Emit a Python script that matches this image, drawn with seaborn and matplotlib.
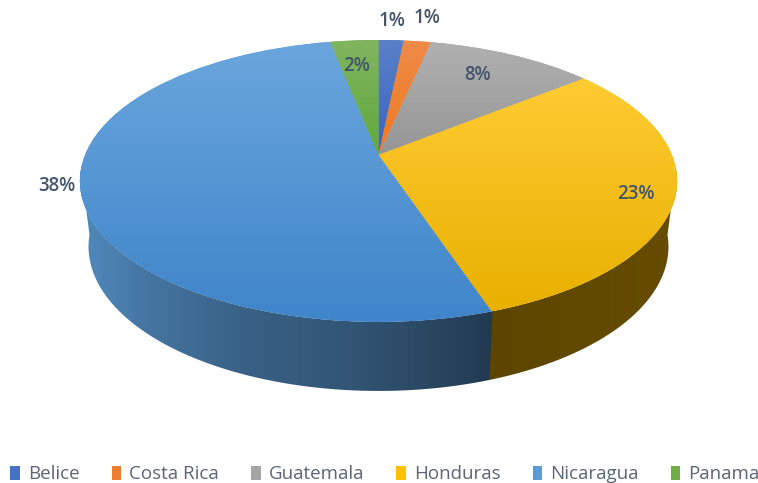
import numpy as np
import seaborn as sns
import matplotlib
matplotlib.use('Agg')
import matplotlib.pyplot as plt
from matplotlib.patches import Polygon
from matplotlib.transforms import Transform

paises = ['Belice', 'Costa Rica', 'Guatemala', 'Honduras', 'Nicaragua', 'Panama']
valores = [1.2, 1.3, 8.0, 22.6, 38.4, 2.3]
cores = ['#4472c4', '#ed7d31', '#a5a5a5', '#ffc000', '#5b9bd5', '#70ad47']
cores_claras = ['#5a80c8', '#ee8a48', '#b0b0b0', '#ffcb33', '#6aa6dd', '#80b560']
cores_escuras = ['#3a64c0', '#f07a20', '#969696', '#e8b000', '#3f85c9', '#62a83c']

# posicao dos rotulos em pixels
rotulos_x = [392, 427, 478, 636, 57, 357]
rotulos_y = [21, 18, 75, 194, 186, 66]

sns.set_theme(style='white')
plt.rcParams['font.family'] = ['Open Sans', 'DejaVu Sans']
paleta = sns.color_palette(cores)
claras = sns.color_palette(cores_claras)
escuras = sns.color_palette(cores_escuras)


class Perspectiva(Transform):
    """Leva o disco unitario para a elipse em perspectiva, em pixels."""
    input_dims = 2
    output_dims = 2
    is_separable = False
    has_inverse = False

    def __init__(self, k, y0, a, c=0.184):
        super().__init__()
        self.k, self.y0, self.a, self.c = k, y0, a, c

    def transform_non_affine(self, values):
        values = np.asarray(values, dtype=float)
        w = 1 + self.c * values[:, 1]
        return np.column_stack([378.5 + self.k * values[:, 0] / w,
                                (self.y0 + self.a * values[:, 1]) / w])


topo = Perspectiva(293.5, 155, -107.6)
base = Perspectiva(285, 220, -99)

fig = plt.figure(figsize=(7.58, 4.83), dpi=100)
ax = fig.add_axes([0, 0, 1, 1])

wedges, _ = ax.pie(valores, colors=paleta, startangle=90, counterclock=False,
                   wedgeprops={'linewidth': 0})
ax.set_aspect('auto')

# lateral do disco: um poligono por fatia, com degrade horizontal recortado
colunas = np.arange(0, 758)
for wedge, cor in zip(wedges, paleta):
    ang = np.radians(np.arange(wedge.theta1, wedge.theta2 + 0.25, 0.25))
    pts = np.column_stack([np.cos(ang), np.sin(ang)])
    pts = pts[pts[:, 1] < -0.1]
    if len(pts) < 2:
        continue
    contorno = np.vstack([topo.transform_non_affine(pts),
                          base.transform_non_affine(pts)[::-1]])
    lado = Polygon(contorno, closed=True, fc='none', lw=0, transform=ax.transData)
    ax.add_patch(lado)
    if cor == paleta[3]:
        f = np.interp(colunas, [489, 678], [0.36, 0.40])
    else:
        f = np.interp(colunas, [85, 150, 250, 350, 420, 489],
                      [0.88, 0.75, 0.62, 0.55, 0.47, 0.38])
    img = (np.array(cor)[None, :] * f[:, None])[None, :, :]
    im = ax.imshow(img, extent=(0, 758, 483, 0), aspect='auto', zorder=1)
    im.set_clip_path(lado)

# tampo com degrade vertical, do alto ao fim de cada fatia
for wedge, clara, escura in zip(wedges, claras, escuras):
    wedge.set_transform(topo + ax.transData)
    wedge.set_zorder(2)
    ang = np.radians(np.linspace(wedge.theta1, wedge.theta2, 200))
    ys = topo.transform_non_affine(np.column_stack([np.cos(ang), np.sin(ang)]))[:, 1]
    y_min, y_max = min(ys.min(), 155), max(ys.max(), 155)
    t = np.linspace(0, 1, 256)[:, None]
    img = (np.array(clara)[None, :] * (1 - t) + np.array(escura)[None, :] * t)[:, None, :]
    im = ax.imshow(img, extent=(0, 758, y_max, y_min), aspect='auto', zorder=3)
    im.set_clip_path(wedge)
ax.set_xlim(0, 758)
ax.set_ylim(483, 0)

for v, x, y in zip(valores, rotulos_x, rotulos_y):
    ax.text(x, y, f'{v:.0f}%', ha='center', va='center', fontsize=13.5,
            fontweight='semibold', color='#44546a', zorder=5)

ax.legend(wedges, paises, loc='lower left', bbox_to_anchor=(-0.006, -0.032), ncol=6,
          frameon=False, fontsize=13.5, labelcolor='#5b6577', handlelength=0.5,
          handleheight=0.75, handletextpad=0.42, columnspacing=1.73, borderpad=0.3)

ax.axis('off')
fig.savefig('out.png', dpi=100)
